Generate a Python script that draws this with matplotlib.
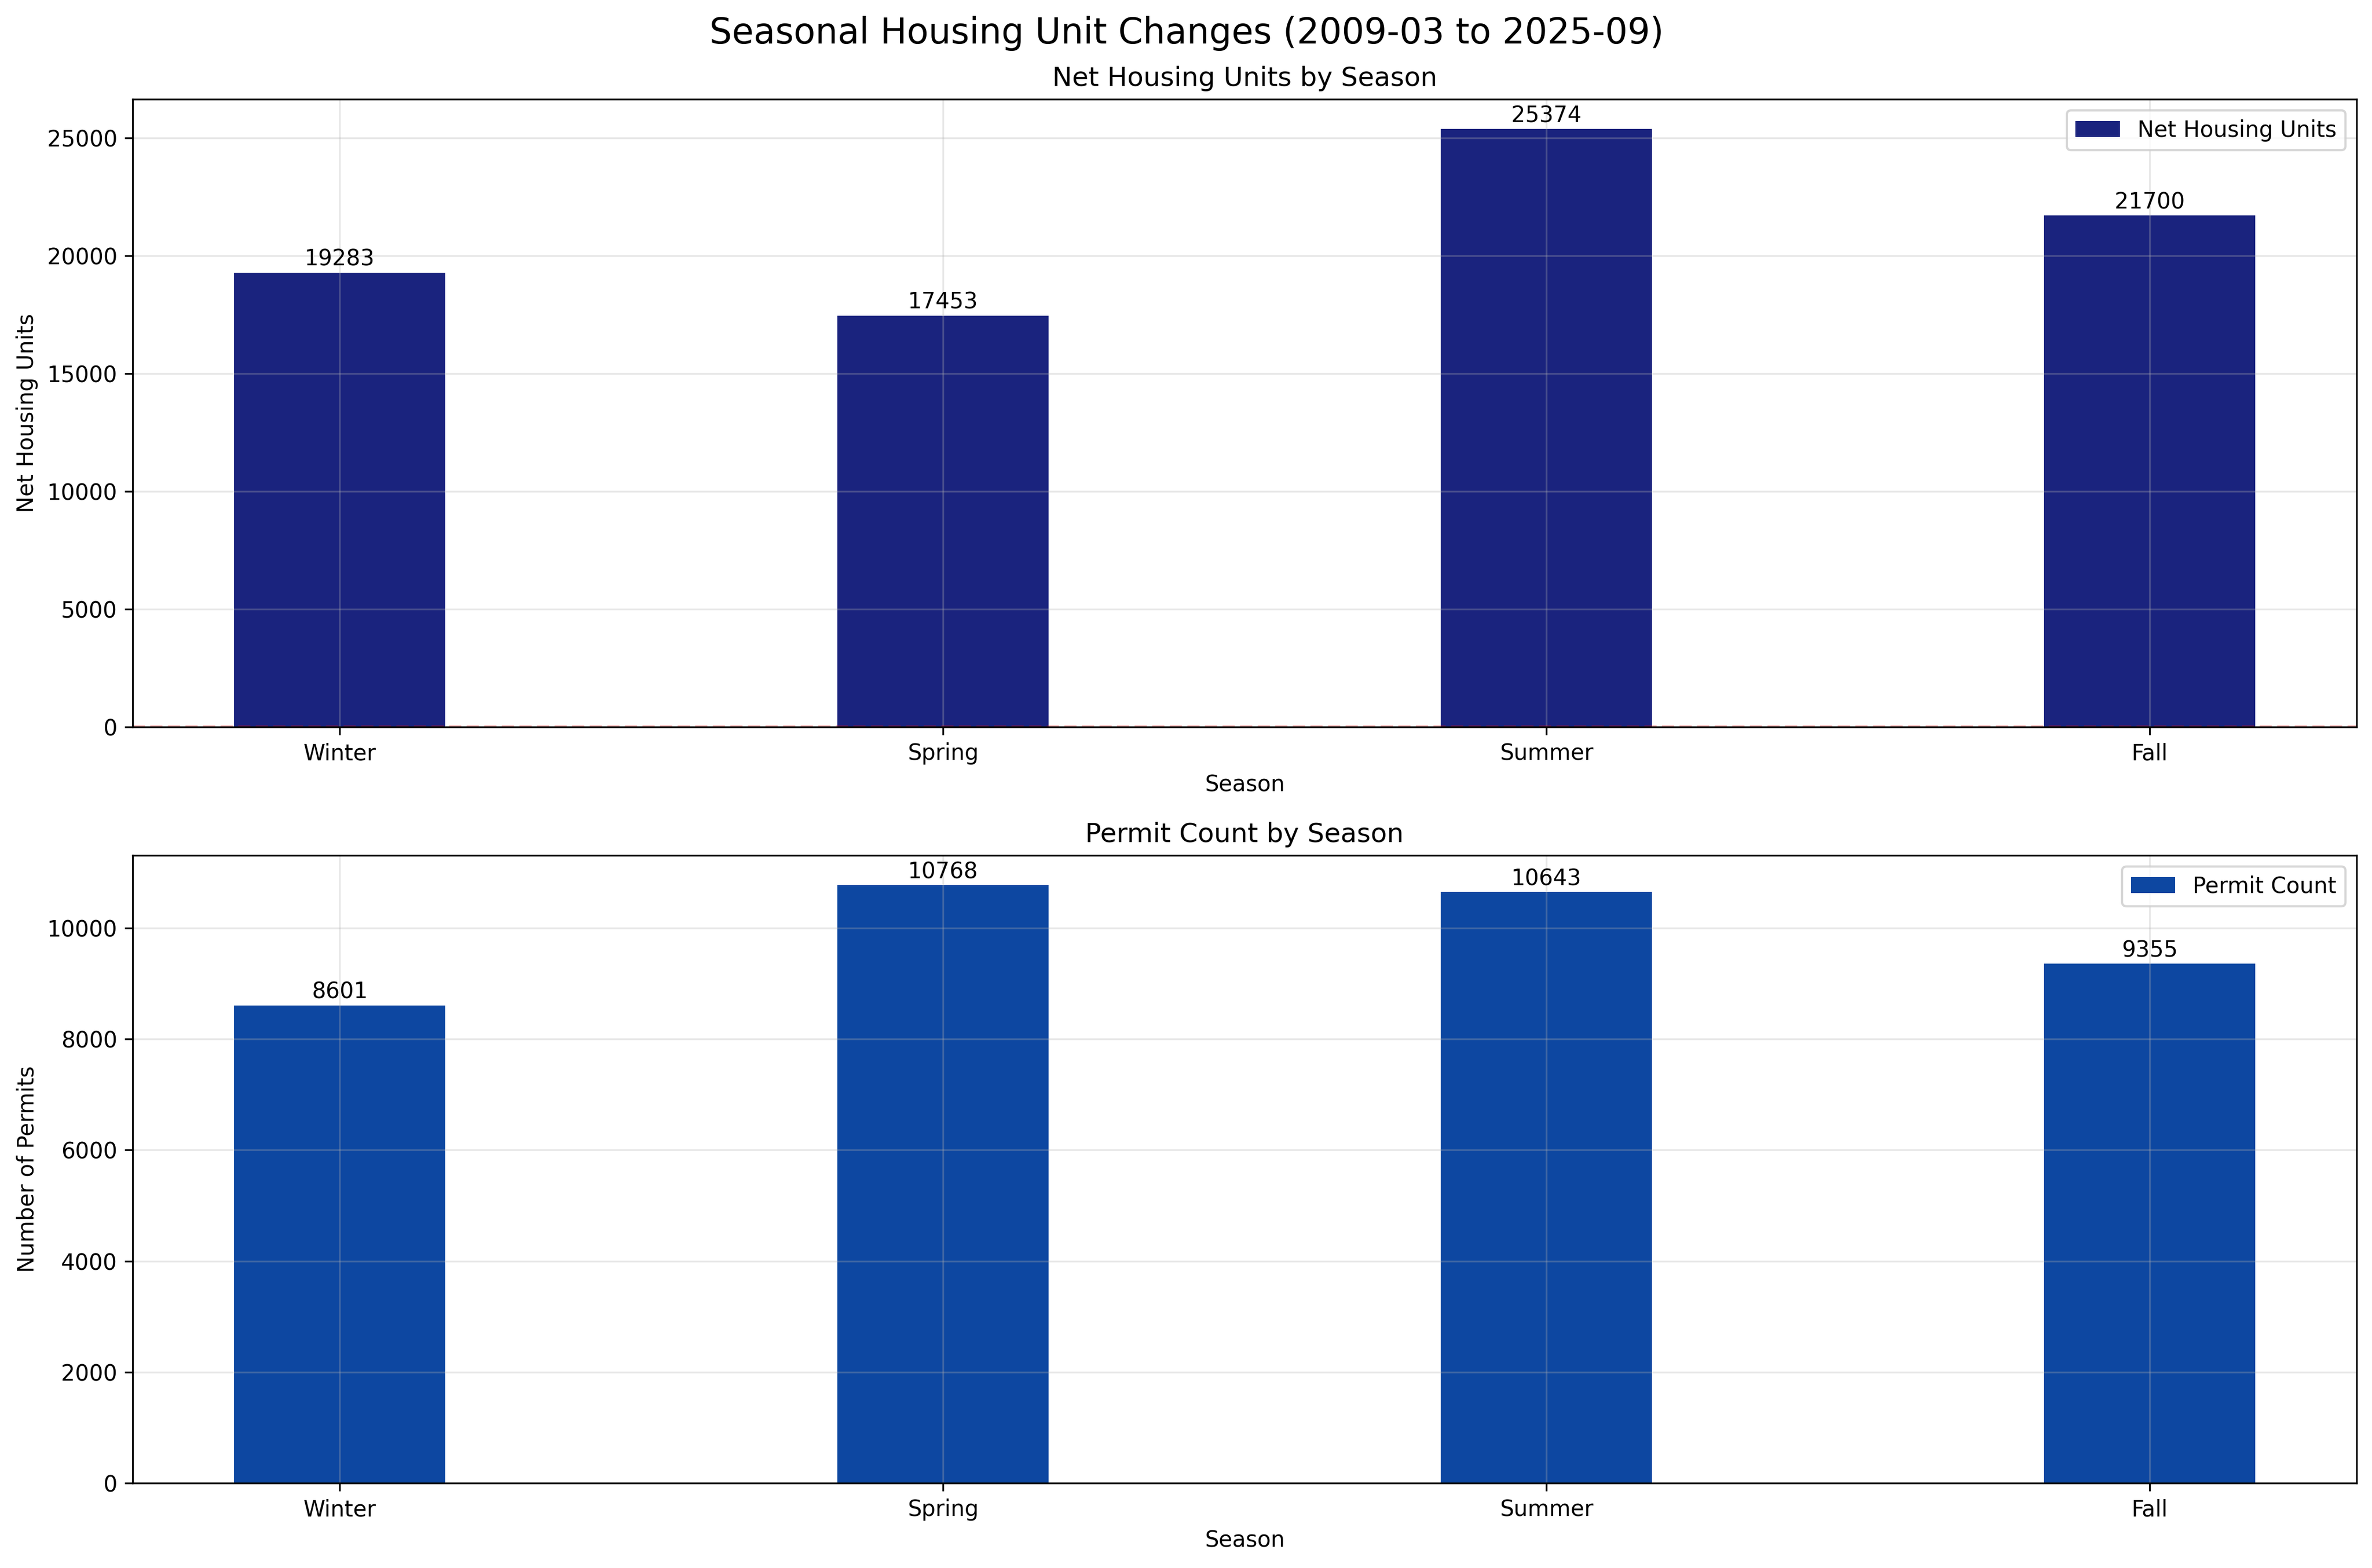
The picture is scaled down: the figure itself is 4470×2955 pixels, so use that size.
import numpy as np
import matplotlib
matplotlib.use('Agg')
import matplotlib.pyplot as plt

seasons = ['Winter', 'Spring', 'Summer', 'Fall']
net_units = [19283, 17453, 25374, 21700]
permit_counts = [8601, 10768, 10643, 9355]


def add_labels(ax, bars, values):
    for bar, val in zip(bars, values):
        ax.annotate(f'{val}', (bar.get_x() + bar.get_width() / 2, bar.get_height()),
                    xytext=(0, 1), textcoords='offset points',
                    ha='center', va='bottom', fontsize=10)


fig, (ax1, ax2) = plt.subplots(2, 1, figsize=(15, 10))
x = np.arange(len(seasons))
width = 0.35

bars1 = ax1.bar(x, net_units, width, color='#1a237e', label='Net Housing Units')
add_labels(ax1, bars1, net_units)
ax1.axhline(0, color='red', linestyle='--', alpha=0.3)
ax1.set_xticks(x)
ax1.set_xticklabels(seasons)
ax1.set_xlabel('Season')
ax1.set_ylabel('Net Housing Units')
ax1.set_title('Net Housing Units by Season')
ax1.legend()
ax1.grid(True, alpha=0.3)

bars2 = ax2.bar(x, permit_counts, width, color='#0d47a1', label='Permit Count')
add_labels(ax2, bars2, permit_counts)
ax2.set_xticks(x)
ax2.set_xticklabels(seasons)
ax2.set_xlabel('Season')
ax2.set_ylabel('Number of Permits')
ax2.set_title('Permit Count by Season')
ax2.legend()
ax2.grid(True, alpha=0.3)

fig.suptitle('Seasonal Housing Unit Changes (2009-03 to 2025-09)', fontsize=16)
plt.tight_layout()
plt.savefig('out.png', dpi=300, bbox_inches='tight')
